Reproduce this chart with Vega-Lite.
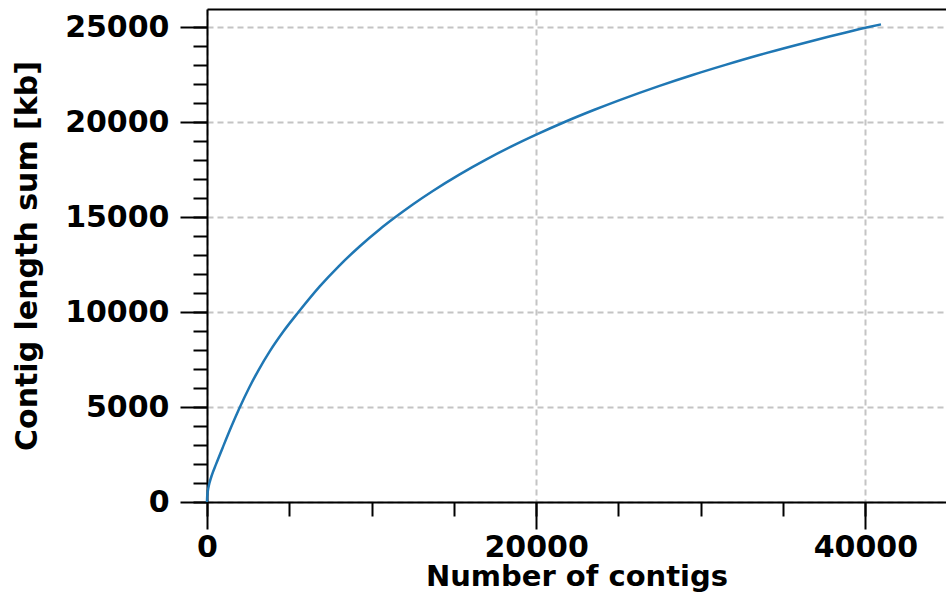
{
  "$schema": "https://vega.github.io/schema/vega-lite/v6.json",
  "width": 739,
  "height": 493,
  "autosize": "none",
  "padding": {"left": 207, "top": 9, "right": 0, "bottom": 101},
  "background": "white",
  "config": {
    "view": {"stroke": null},
    "font": "DejaVu Sans",
    "axis": {
      "labelFont": "DejaVu Sans",
      "labelFontWeight": "bold",
      "labelFontSize": 30,
      "labelColor": "black",
      "titleFont": "DejaVu Sans",
      "titleFontWeight": "bold",
      "titleFontSize": 30,
      "titleColor": "black",
      "tickColor": "black",
      "tickWidth": 2,
      "domainColor": "black",
      "domainWidth": 2
    }
  },
  "data": {
    "values": [
      {"contigs": 0, "kb": 0},
      {"contigs": 10, "kb": 258},
      {"contigs": 40, "kb": 516},
      {"contigs": 80, "kb": 730},
      {"contigs": 150, "kb": 1000},
      {"contigs": 300, "kb": 1430},
      {"contigs": 545, "kb": 1980},
      {"contigs": 990, "kb": 2940},
      {"contigs": 1455, "kb": 3920},
      {"contigs": 1960, "kb": 4920},
      {"contigs": 2545, "kb": 5985},
      {"contigs": 3150, "kb": 6971},
      {"contigs": 3820, "kb": 7943},
      {"contigs": 4660, "kb": 9000},
      {"contigs": 5560, "kb": 10000},
      {"contigs": 6850, "kb": 11350},
      {"contigs": 8000, "kb": 12407},
      {"contigs": 9270, "kb": 13451},
      {"contigs": 10500, "kb": 14358},
      {"contigs": 11390, "kb": 14957},
      {"contigs": 12500, "kb": 15663},
      {"contigs": 13720, "kb": 16374},
      {"contigs": 15330, "kb": 17234},
      {"contigs": 16950, "kb": 18023},
      {"contigs": 18500, "kb": 18715},
      {"contigs": 20000, "kb": 19335},
      {"contigs": 21800, "kb": 20029},
      {"contigs": 23500, "kb": 20633},
      {"contigs": 25030, "kb": 21143},
      {"contigs": 27450, "kb": 21893},
      {"contigs": 29500, "kb": 22478},
      {"contigs": 31500, "kb": 23010},
      {"contigs": 33500, "kb": 23516},
      {"contigs": 35530, "kb": 23992},
      {"contigs": 37750, "kb": 24486},
      {"contigs": 40000, "kb": 24963},
      {"contigs": 40950, "kb": 25140}
    ]
  },
  "layer": [
    {
      "mark": {"type": "point", "opacity": 0},
      "encoding": {
        "x": {
          "field": "contigs", "type": "quantitative",
          "scale": {"domain": [0, 44900], "nice": false, "zero": false},
          "axis": {
            "orient": "bottom",
            "values": [0, 5000, 10000, 15000, 20000, 25000, 30000, 35000, 40000],
            "labels": false, "tickSize": 14, "domain": false, "grid": false, "title": null
          }
        },
        "y": {
          "field": "kb", "type": "quantitative",
          "scale": {"domain": [0, 25950], "nice": false, "zero": false},
          "axis": {
            "orient": "left",
            "values": [0, 1000, 2000, 3000, 4000, 5000, 6000, 7000, 8000, 9000, 10000, 11000, 12000, 13000, 14000, 15000, 16000, 17000, 18000, 19000, 20000, 21000, 22000, 23000, 24000, 25000],
            "labels": false, "tickSize": 14, "domain": false, "grid": false, "title": null
          }
        }
      }
    },
    {
      "mark": {"type": "point", "opacity": 0},
      "encoding": {
        "x": {
          "field": "contigs", "type": "quantitative",
          "scale": {"domain": [0, 44900], "nice": false, "zero": false},
          "axis": {
            "orient": "top", "domain": true, "ticks": false,
            "labels": false, "grid": false, "title": null
          }
        },
        "y": {
          "field": "kb", "type": "quantitative",
          "scale": {"domain": [0, 25950], "nice": false, "zero": false},
          "axis": null
        }
      }
    },
    {
      "mark": {"type": "line", "color": "#1f77b4", "strokeWidth": 2.5, "interpolate": "monotone"},
      "encoding": {
        "x": {
          "field": "contigs", "type": "quantitative",
          "scale": {"domain": [0, 44900], "nice": false, "zero": false},
          "axis": {
            "orient": "bottom",
            "values": [0, 20000, 40000],
            "format": "d",
            "tickSize": 27, "labelPadding": 3, "labelFlush": false,
            "grid": true, "gridColor": "#c4c4c4", "gridWidth": 2, "gridDash": [6, 4],
            "title": "Number of contigs", "titleFontSize": 29, "titlePadding": 0
          }
        },
        "y": {
          "field": "kb", "type": "quantitative",
          "scale": {"domain": [0, 25950], "nice": false, "zero": false},
          "axis": {
            "orient": "left",
            "values": [0, 5000, 10000, 15000, 20000, 25000],
            "format": "d",
            "tickSize": 27, "labelPadding": 11, "labelFlush": false,
            "grid": true, "gridColor": "#c4c4c4", "gridWidth": 2, "gridDash": [6, 4],
            "title": "Contig length sum [kb]", "titlePadding": 22
          }
        }
      }
    }
  ],
  "resolve": {"scale": {"x": "independent", "y": "independent"}, "axis": {"x": "independent", "y": "independent"}}
}
